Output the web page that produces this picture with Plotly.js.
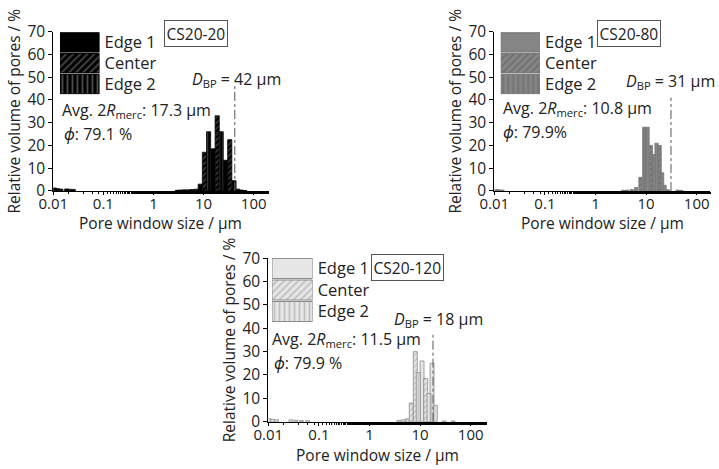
<!DOCTYPE html>
<html>
<head>
<meta charset="utf-8">
<script src="https://cdn.plot.ly/plotly-3.0.1.min.js"></script>
<style>html,body{margin:0;padding:0;background:#fff;}#chart{width:719px;height:469px;}</style>
</head>
<body>
<div id="chart"></div>
<script>
// ---------- data ----------
const seriesNames = ['Edge 1', 'Center', 'Edge 2'];
const sampleNames = ['CS20-20', 'CS20-80', 'CS20-120'];
const dbpValues = [42, 31, 18];
const dbpLabels = ['42 µm', '31 µm', '18 µm'];
const avgMerc = ['17.3 µm', '10.8 µm', '11.5 µm'];
const phiTexts = ['79.1 %', '79.9%', '79.9 %'];
const xTitle = 'Pore window size / µm';
const yTitle = 'Relative volume of pores / %';
const xTickVals = [0.01, 0.1, 1, 10, 100];
const xTickText = ['0.01', '0.1', '1', '10', '100'];
const yTickVals = [0, 10, 20, 30, 40, 50, 60, 70];

// CS20-20
const e1_20_x = [0.0105, 0.0186, 3.0, 5.2, 8.59, 15.4, 27.6, 48];
const e1_20_y = [1.3, 0.9, 0.3, 0.5, 3, 18.5, 13.5, 0.8];
const c_20_x  = [0.0122, 0.021, 3.5, 6.1, 10.4, 18.7, 33.3, 56];
const c_20_y  = [1.0, 0.7, 0.4, 0.6, 17, 33, 22.5, 0.4];
const e2_20_x = [0.0142, 0.025, 4.2, 7.2, 12.6, 22.5, 40.5, 66];
const e2_20_y = [0.8, 0.7, 0.5, 0.8, 26, 26, 4.5, 0.2];
// CS20-80
const e1_80_x = [0.011, 3.5, 6.37, 10.7, 16.1, 23.2, 42];
const e1_80_y = [0.6, 0.3, 1.5, 28, 21, 2.5, 0.4];
const c_80_x  = [0.0125, 4.2, 7.74, 12.4, 18.5, 27];
const c_80_y  = [0.5, 0.4, 6, 20, 20, 0.5];
const e2_80_x = [0.0145, 5.2, 9.21, 14.1, 20.7, 50];
const e2_80_y = [0.4, 0.6, 28, 16, 8, 0.3];
// CS20-120
const e1_120_x = [0.0105, 0.028, 0.06, 4.66, 10.9, 17.2];
const e1_120_y = [1.2, 0.8, 0.4, 0.8, 26, 25];
const c_120_x  = [0.012, 0.035, 5.58, 6.70, 8.04, 12.9, 30];
const c_120_y  = [1.0, 0.6, 1.2, 8, 30, 18.5, 0.3];
const e2_120_x = [0.0145, 0.045, 3.8, 9.2, 15.0, 19.95, 45];
const e2_120_y = [0.8, 0.5, 0.5, 21, 12, 7, 0.3];

const legendOnes = [1, 1, 1];

// ---------- styling ----------
const W = 719, H = 469;
const FONT = 'Open Sans, Noto Sans, sans-serif';
const px = (x) => x / W;
const py = (y) => 1 - y / H;

const panels = [
  { xs: [e1_20_x, c_20_x, e2_20_x], ys: [e1_20_y, c_20_y, e2_20_y], bw: 0.083,
    fill: '#000000', fg: ['#000000', '#8a8a8a', '#9a9a9a'], line: '#000000',
    xd: [0.0741, 0.3737], xr: [-2, 2.30], yd: [0.5928, 0.9328], dbpTop: 46.5,
    leg: { xd: [0.0834, 0.1384], yd: [0.7985, 0.9318] },
    box: [195.5, 33], dbp: [236, 80], avg: [60, 110], phi: [62, 134], xt: 223 },
  { xs: [e1_80_x, c_80_x, e2_80_x], ys: [e1_80_y, c_80_y, e2_80_y], bw: 0.065,
    fill: '#858585', fg: ['#858585', '#5a5a5a', '#5e5e5e'], line: '#777777',
    xd: [0.6875, 0.9875], xr: [-2, 2.263], yd: [0.5928, 0.9328], dbpTop: 41,
    leg: { xd: [0.6964, 0.7510], yd: [0.7985, 0.9318] },
    box: [628.5, 33], dbp: [670, 82], avg: [500.7, 108], phi: [500.7, 132], xt: 223 },
  { xs: [e1_120_x, c_120_x, e2_120_x], ys: [e1_120_y, c_120_y, e2_120_y], bw: 0.079,
    fill: '#e6e6e6', fg: ['#e6e6e6', '#9a9a9a', '#9a9a9a'], line: '#8a8a8a',
    xd: [0.3732, 0.6769], xr: [-2, 2.316], yd: [0.1009, 0.4493], dbpTop: 37.5,
    leg: { xd: [0.3783, 0.4349], yd: [0.3128, 0.4505] },
    box: [407.5, 267], dbp: [439, 319], avg: [270, 339], phi: [272, 363], xt: 455 }
];
const shapesPat = ['', '/', '|'];

// bars are drawn symmetric in log space: offset/width (linear units) derived from the bar's decade width
function logOffsets(xs, bw) { return xs.map(c => c * Math.pow(10, -bw / 2) - c); }
function logWidths(xs, bw) { return xs.map(c => c * (Math.pow(10, bw / 2) - Math.pow(10, -bw / 2))); }

const traces = [];
const layout = {
  width: W, height: H, margin: { l: 0, r: 0, t: 0, b: 0 },
  paper_bgcolor: '#fff', plot_bgcolor: 'rgba(0,0,0,0)',
  showlegend: false, barmode: 'overlay', bargap: 0.07,
  font: { family: FONT, size: 14, color: '#222' },
  shapes: [], annotations: []
};

panels.forEach((p, i) => {
  const n = i + 1;
  const xa = n === 1 ? 'x' : 'x' + n;
  const ya = n === 1 ? 'y' : 'y' + n;
  for (let s = 0; s < 3; s++) {
    traces.push({
      type: 'bar', name: seriesNames[s], x: p.xs[s], y: p.ys[s],
      offset: logOffsets(p.xs[s], p.bw), width: logWidths(p.xs[s], p.bw),
      xaxis: xa, yaxis: ya,
      marker: {
        color: p.fill,
        line: { color: p.line, width: 0.8 },
        pattern: { shape: shapesPat[s], fgcolor: p.fg[s], bgcolor: p.fill, size: 4, solidity: 0.35, fillmode: 'overlay' }
      },
      hoverinfo: 'skip'
    });
  }
  // legend swatches
  const lx = 'x' + (n + 3), ly = 'y' + (n + 3);
  traces.push({
    type: 'bar', orientation: 'h', x: legendOnes, y: seriesNames,
    xaxis: lx, yaxis: ly,
    marker: {
      color: p.fill,
      line: { color: p.line, width: 1 },
      pattern: { shape: shapesPat, fgcolor: p.fg, bgcolor: p.fill, size: 5, solidity: 0.35, fillmode: 'overlay' }
    },
    hoverinfo: 'skip'
  });

  const xk = n === 1 ? 'xaxis' : 'xaxis' + n;
  const yk = n === 1 ? 'yaxis' : 'yaxis' + n;
  layout[xk] = {
    type: 'log', domain: p.xd, range: p.xr, anchor: ya,
    tickvals: xTickVals, ticktext: xTickText,
    showline: true, linecolor: '#000', linewidth: 1,
    ticks: 'outside', ticklen: 3, tickcolor: '#000',
    ticklabelstandoff: -4,
    minor: { ticks: 'outside', ticklen: 2, tickcolor: '#000', showgrid: false },
    showgrid: false, zeroline: false,
    tickfont: { size: 15, color: '#222', family: FONT },
    automargin: false
  };
  layout[yk] = {
    domain: p.yd, range: [0, 70], anchor: xa,
    tickvals: yTickVals,
    showline: true, linecolor: '#000', linewidth: 1,
    ticks: 'outside', ticklen: 4, tickcolor: '#000',
    showgrid: false, zeroline: false,
    tickfont: { size: 15.5, color: '#222', family: FONT },
    title: { text: yTitle, font: { size: 15.5, color: '#222', family: FONT }, standoff: 3 },
    automargin: false
  };
  layout['xaxis' + (n + 3)] = { domain: p.leg.xd, range: [0, 1], anchor: ly, visible: false, fixedrange: true };
  layout['yaxis' + (n + 3)] = {
    domain: p.leg.yd, anchor: lx, side: 'right', autorange: 'reversed',
    type: 'category', categoryarray: seriesNames,
    showline: false, showgrid: false, zeroline: false, ticks: '',
    ticklabelstandoff: 4,
    tickfont: { size: 16.5, color: '#222', family: FONT }
  };

  // x-axis title (placed as text just under the tick labels)
  layout.annotations.push({
    xref: 'paper', yref: 'paper', x: (p.xd[0] + p.xd[1]) / 2, y: py(p.xt), text: xTitle,
    showarrow: false, font: { size: 15.5, color: '#222', family: FONT }, xanchor: 'center', yanchor: 'middle'
  });
  // D_BP line
  layout.shapes.push({
    type: 'line', xref: xa, yref: ya, x0: dbpValues[i], x1: dbpValues[i], y0: 0, y1: p.dbpTop,
    line: { color: '#555', width: 1, dash: 'dashdot' }
  });
  // annotations
  layout.annotations.push({
    xref: 'paper', yref: 'paper', x: px(p.box[0]), y: py(p.box[1]), text: sampleNames[i],
    showarrow: false, font: { size: 15.5, color: '#222', family: FONT },
    bordercolor: '#555', borderwidth: 1, borderpad: 1.5, bgcolor: '#fff', xanchor: 'center', yanchor: 'middle'
  });
  layout.annotations.push({
    xref: 'paper', yref: 'paper', x: px(p.dbp[0]), y: py(p.dbp[1]),
    text: '<i>D</i><sub>BP</sub> = ' + dbpLabels[i],
    showarrow: false, font: { size: 16, color: '#222', family: FONT }, xanchor: 'center', yanchor: 'middle'
  });
  layout.annotations.push({
    xref: 'paper', yref: 'paper', x: px(p.avg[0]), y: py(p.avg[1]),
    text: 'Avg. 2<i>R</i><sub>merc</sub>: ' + avgMerc[i],
    showarrow: false, font: { size: 16, color: '#222', family: FONT }, xanchor: 'left', yanchor: 'middle'
  });
  layout.annotations.push({
    xref: 'paper', yref: 'paper', x: px(p.phi[0]), y: py(p.phi[1]),
    text: '<i>ϕ</i>: ' + phiTexts[i],
    showarrow: false, font: { size: 16, color: '#222', family: FONT }, xanchor: 'left', yanchor: 'middle'
  });
});

Plotly.newPlot('chart', traces, layout, { staticPlot: true, displayModeBar: false });
</script>
</body>
</html>
